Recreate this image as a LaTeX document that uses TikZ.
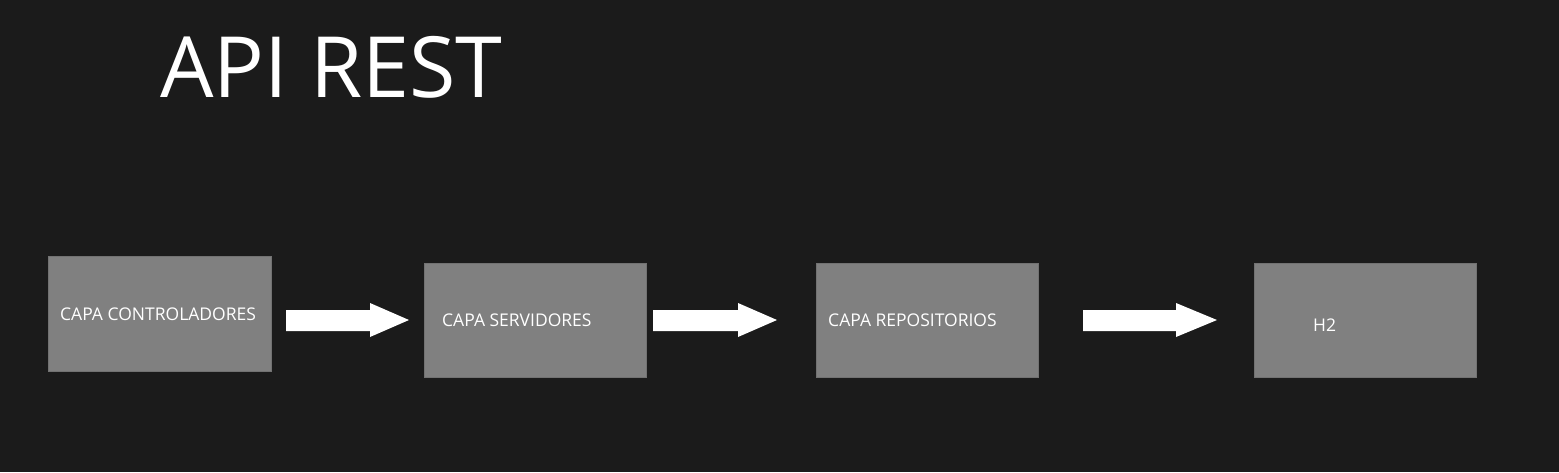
\documentclass[tikz,border=0pt]{standalone}
\usepackage{fontspec}
\setmainfont{Open Sans}
\definecolor{bg}{HTML}{1B1B1B}
\definecolor{boxgray}{HTML}{808080}
\definecolor{boxline}{HTML}{727272}
\begin{document}
\begin{tikzpicture}[x=1pt,y=-1pt,
  layerbox/.style={fill=boxgray,draw=boxline,line width=1pt},
  layertext/.style={anchor=west,text=white,font=\fontsize{17.5}{19}\selectfont,inner sep=0pt},
  fatarrow/.style={fill=white}]
\fill[bg] (0,0) rectangle (1559,472);
\useasboundingbox (0,0) rectangle (1559,472);
\node[anchor=base west,text=white,font=\fontsize{84.5}{88}\selectfont,inner sep=0pt] (title) at (160,97) {API REST};
\draw[layerbox] (48,256) rectangle (271,371);
\draw[layerbox] (424,263) rectangle (646,377);
\draw[layerbox] (816,263) rectangle (1038,377);
\draw[layerbox] (1254,263) rectangle (1476,377);
\node[layertext] (b1) at (60,314) {CAPA CONTROLADORES};
\node[layertext] (b2) at (442,320) {CAPA SERVIDORES};
\node[layertext] (b3) at (828,320) {CAPA REPOSITORIOS};
\node[layertext] (b4) at (1313,325) {H2};
\fill[fatarrow] (286,310) -- (370,310) -- (370,303) -- (409,320) -- (370,337) -- (370,331) -- (286,331) -- cycle;
\fill[fatarrow] (653,310) -- (738,310) -- (738,303) -- (777,320) -- (738,337) -- (738,331) -- (653,331) -- cycle;
\fill[fatarrow] (1083,310) -- (1176,310) -- (1176,303) -- (1217,320) -- (1176,337) -- (1176,331) -- (1083,331) -- cycle;
\end{tikzpicture}
\end{document}
